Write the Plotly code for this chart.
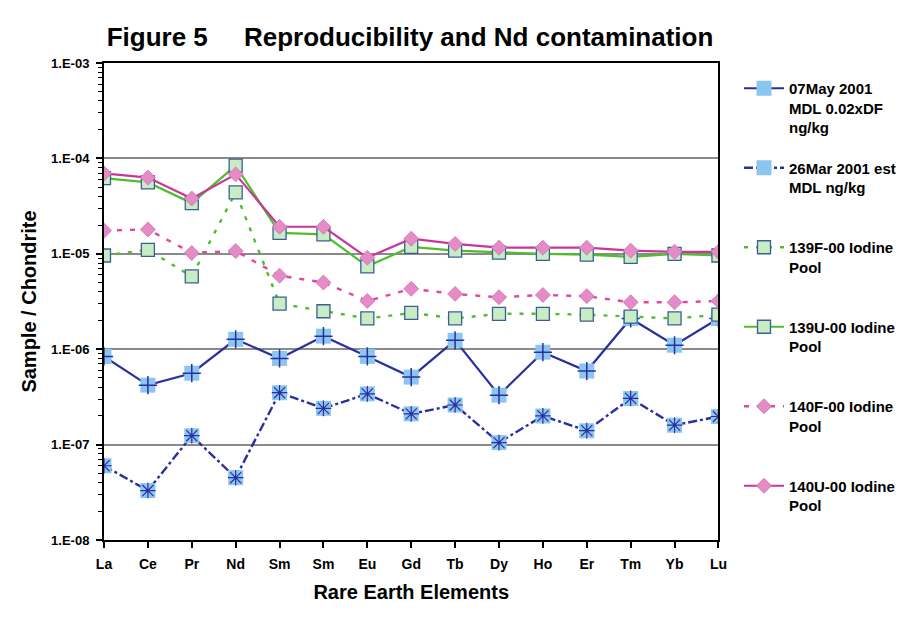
import plotly.graph_objects as go

categories = ["La", "Ce", "Pr", "Nd", "Sm", "Sm", "Eu", "Gd", "Tb", "Dy", "Ho", "Er", "Tm", "Yb", "Lu"]

may2001_mdl = [8.4e-7, 4.2e-7, 5.6e-7, 1.27e-6, 8.0e-7, 1.37e-6, 8.4e-7, 5.1e-7, 1.24e-6, 3.3e-7, 9.3e-7, 5.9e-7, 2.1e-6, 1.1e-6, 2.1e-6]
mar2001_mdl = [6.0e-8, 3.3e-8, 1.24e-7, 4.5e-8, 3.5e-7, 2.4e-7, 3.4e-7, 2.1e-7, 2.6e-7, 1.05e-7, 2.0e-7, 1.4e-7, 3.05e-7, 1.6e-7, 1.97e-7]
f139 = [9.6e-6, 1.1e-5, 5.8e-6, 4.4e-5, 3.0e-6, 2.5e-6, 2.1e-6, 2.4e-6, 2.1e-6, 2.35e-6, 2.35e-6, 2.3e-6, 2.2e-6, 2.1e-6, 2.3e-6]
u139 = [6.2e-5, 5.6e-5, 3.4e-5, 8.4e-5, 1.66e-5, 1.6e-5, 7.4e-6, 1.18e-5, 1.08e-5, 1.03e-5, 1.0e-5, 9.8e-6, 9.3e-6, 1.0e-5, 9.6e-6]
f140 = [1.75e-5, 1.8e-5, 1.02e-5, 1.07e-5, 5.9e-6, 5.0e-6, 3.2e-6, 4.3e-6, 3.8e-6, 3.5e-6, 3.7e-6, 3.6e-6, 3.1e-6, 3.1e-6, 3.2e-6]
u140 = [6.95e-5, 6.3e-5, 3.8e-5, 6.8e-5, 1.92e-5, 1.92e-5, 9.1e-6, 1.44e-5, 1.27e-5, 1.16e-5, 1.16e-5, 1.16e-5, 1.08e-5, 1.05e-5, 1.05e-5]

series_names = [
    "07May 2001<br>MDL 0.02xDF<br>ng/kg",
    "26Mar 2001 est<br>MDL ng/kg<br>&nbsp;",
    "139F-00 Iodine<br>Pool<br>&nbsp;",
    "139U-00 Iodine<br>Pool<br>&nbsp;",
    "140F-00 Iodine<br>Pool<br>&nbsp;",
    "140U-00 Iodine<br>Pool<br>&nbsp;",
]
y_tick_vals = [1e-8, 1e-7, 1e-6, 1e-5, 1e-4, 1e-3]
y_tick_text = ["1.E-08", "1.E-07", "1.E-06", "1.E-05", "1.E-04", "1.E-03"]

x = list(range(len(categories)))

BLUE = "#2a2fa0"
LBLUE = "#8cc6f0"
GREEN = "#4cbf2a"
LGREEN = "#c8ecc4"
SQEDGE = "#3a5f95"
MAG = "#c8359c"
PINK = "#e58bc6"
PINKLINE = "#e0479f"

fig = go.Figure()

# 07May 2001
fig.add_trace(go.Scatter(x=x, y=may2001_mdl, mode="lines+markers", name=series_names[0],
                         legendgroup="g1",
                         line=dict(color=BLUE, width=2.2),
                         marker=dict(symbol="square", size=15, color=LBLUE, line=dict(width=0))))
fig.add_trace(go.Scatter(x=x, y=may2001_mdl, mode="markers", showlegend=False, legendgroup="g1",
                         marker=dict(symbol="cross-thin", size=13, line=dict(color=BLUE, width=1.5))))
# 26Mar 2001
fig.add_trace(go.Scatter(x=x, y=mar2001_mdl, mode="lines+markers", name=series_names[1],
                         legendgroup="g2",
                         line=dict(color=BLUE, width=2.4, dash="dashdot"),
                         marker=dict(symbol="square", size=15, color=LBLUE, line=dict(width=0))))
fig.add_trace(go.Scatter(x=x, y=mar2001_mdl, mode="markers", showlegend=False, legendgroup="g2",
                         marker=dict(symbol="asterisk", size=13, line=dict(color=BLUE, width=1.2))))
# 139F
fig.add_trace(go.Scatter(x=x, y=f139, mode="lines+markers", name=series_names[2],
                         legendgroup="g3",
                         line=dict(color=GREEN, width=2.4, dash="4px,8px"),
                         marker=dict(symbol="square", size=13, color=LGREEN, line=dict(color=SQEDGE, width=1.3))))
# 139U
fig.add_trace(go.Scatter(x=x, y=u139, mode="lines+markers", name=series_names[3],
                         legendgroup="g4",
                         line=dict(color=GREEN, width=2.2),
                         marker=dict(symbol="square", size=13, color=LGREEN, line=dict(color=SQEDGE, width=1.3))))
# 140F
fig.add_trace(go.Scatter(x=x, y=f140, mode="lines+markers", name=series_names[4],
                         legendgroup="g5",
                         line=dict(color=PINKLINE, width=2.4, dash="5px,8px"),
                         marker=dict(symbol="diamond", size=11.5, color=PINK, line=dict(color="#d070b0", width=0.8))))
# 140U
fig.add_trace(go.Scatter(x=x, y=u140, mode="lines+markers", name=series_names[5],
                         legendgroup="g6",
                         line=dict(color=MAG, width=2.2),
                         marker=dict(symbol="diamond", size=11.5, color=PINK, line=dict(color="#d070b0", width=0.8))))

minor_vals = [k * 10.0 ** e for e in range(-8, -3) for k in range(2, 10)]

FONT = "Liberation Sans, Arial, sans-serif"

fig.update_layout(
    width=902, height=623,
    margin=dict(l=104, r=182, t=63, b=83),
    paper_bgcolor="white", plot_bgcolor="white",
    font=dict(family=FONT, color="black"),
    title=dict(text="Figure 5&nbsp;&nbsp;&nbsp;&nbsp;&nbsp;Reproducibility and Nd contamination",
               x=410 / 902, xanchor="center", y=1 - 37 / 623, yanchor="middle",
               font=dict(size=26, family=FONT, weight="bold", color="black")),
    showlegend=True,
    legend=dict(x=739 / 902, y=1 - 72 / 623, xref="container", yref="container",
                xanchor="left", yanchor="top", valign="top", maxheight=600,
                font=dict(size=15, family=FONT, weight="bold", color="black"),
                tracegroupgap=18, itemwidth=40, bgcolor="rgba(0,0,0,0)"),
    xaxis=dict(range=[0, 14], tickvals=x, ticktext=categories,
               tickfont=dict(size=14, family=FONT, weight="bold"),
               ticks="outside", ticklen=6, tickwidth=1.5, tickcolor="black",
               ticklabelstandoff=4,
               showline=True, linecolor="black", linewidth=2, mirror=True,
               showgrid=False, zeroline=False,
               title=dict(text="Rare Earth Elements", standoff=14,
                          font=dict(size=20, family=FONT, weight="bold"))),
    yaxis=dict(type="log", range=[-8, -3], tickvals=y_tick_vals, ticktext=y_tick_text,
               tickfont=dict(size=13, family=FONT, weight="bold"),
               ticks="outside", ticklen=6, tickwidth=1.5, tickcolor="black",
               ticklabelstandoff=4,
               minor=dict(tickvals=minor_vals, ticks="outside", ticklen=4, tickwidth=1.2,
                          tickcolor="black", showgrid=False),
               showline=True, linecolor="black", linewidth=2, mirror=True,
               showgrid=True, gridcolor="#8a8a8a", gridwidth=1.5, zeroline=False,
               title=dict(text="Sample / Chondrite", standoff=9,
                          font=dict(size=20, family=FONT, weight="bold"))),
)

fig.write_html("out.html")
